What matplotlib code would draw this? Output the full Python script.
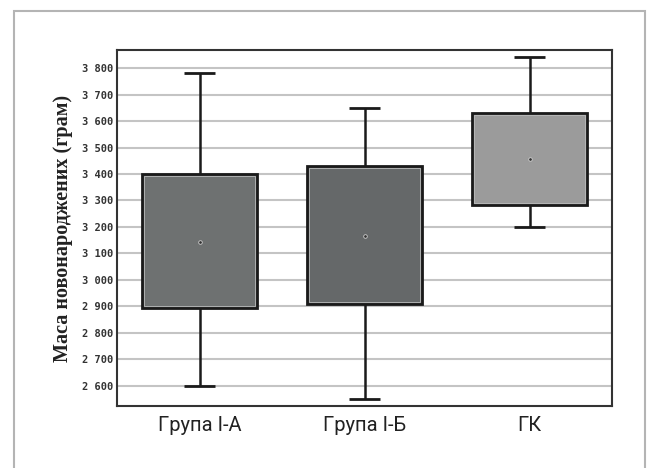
import matplotlib.pyplot as plt
from matplotlib.patches import Rectangle
from matplotlib.ticker import FuncFormatter

# box plot summary values (grams)
groups = ["Група І-А", "Група І-Б", "ГК"]
whisker_low = [2600, 2550, 3200]
q1 = [2893, 2909, 3284]
q3 = [3400, 3431, 3630]
whisker_high = [3781, 3650, 3842]
means = [3142, 3167, 3456]
box_colors = ["#6e7171", "#656869", "#9b9b9b"]

fig = plt.figure(figsize=(6.47, 4.68), dpi=100)

# outer light frame around the figure
fig.patches.append(Rectangle((14 / 647, -0.05), 631 / 647, 1.05 - 11 / 468,
                             transform=fig.transFigure, fill=False,
                             edgecolor="#b4b4b4", linewidth=1.5))

ax = fig.add_axes([117 / 647, 1 - 406 / 468, 495 / 647, 356 / 468])

box_w = 0.7
cap_w = 0.19
for i, g in enumerate(groups):
    ax.vlines(i, whisker_low[i], q1[i], color="#1a1a1a", lw=1.8, zorder=3)
    ax.vlines(i, q3[i], whisker_high[i], color="#1a1a1a", lw=1.8, zorder=3)
    ax.hlines([whisker_low[i], whisker_high[i]], i - cap_w / 2, i + cap_w / 2,
              color="#1a1a1a", lw=2, zorder=3)
    ax.bar(i, q3[i] - q1[i], bottom=q1[i], width=box_w, color=box_colors[i],
           edgecolor="#1a1a1a", linewidth=2, zorder=3)
    ax.bar(i, q3[i] - q1[i] - 14, bottom=q1[i] + 7, width=box_w - 0.025,
           fill=False, edgecolor="#b9bbbb", linewidth=0.6, zorder=4)
    ax.plot(i, means[i], marker="o", ms=2.6, mfc="#333333", mec="#d0d0d0",
            mew=0.6, zorder=5)

ax.set_xlim(-0.5, 2.5)
ax.set_ylim(2523, 3869)
ax.set_yticks(range(2600, 3801, 100))
ax.yaxis.set_major_formatter(FuncFormatter(lambda v, p: f"{int(v) // 1000} {int(v) % 1000:03d}"))
ax.set_xticks(range(len(groups)))
ax.set_xticklabels(groups, fontsize=14.5, color="#222222",
                   family=["Roboto", "DejaVu Sans"])
for lab in ax.get_yticklabels():
    lab.set_fontsize(7.5)
    lab.set_fontweight("bold")
    lab.set_family("DejaVu Sans Mono")
    lab.set_color("#333333")
ax.tick_params(axis="y", length=0, pad=3)
ax.tick_params(axis="x", length=0, pad=7)

ax.grid(axis="y", color="#c4c4c4", lw=1.5, zorder=0)
ax.set_axisbelow(True)
for s in ax.spines.values():
    s.set_color("#333333")
    s.set_linewidth(1.5)

ax.set_ylabel("Маса новонароджених (грам)", fontsize=14.5, fontweight="bold",
              family="Liberation Serif", color="#222222", labelpad=6)

fig.savefig("out.png", dpi=100)
